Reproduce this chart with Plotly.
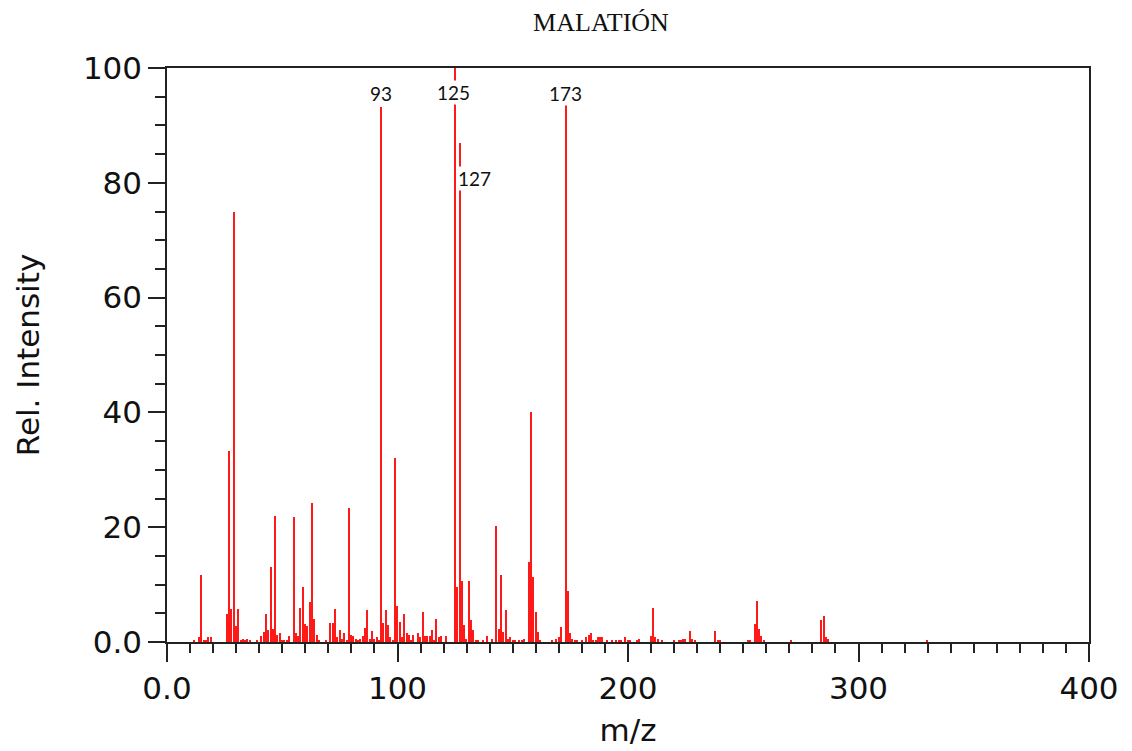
import plotly.graph_objects as go

# m/z values and relative intensities
mz = [12, 14, 15, 16, 17, 18, 19, 26, 27, 28, 29, 30, 31, 32, 33, 34, 35, 36, 39,
      41, 42, 43, 44, 45, 46, 47, 48, 49, 50, 51, 52, 53, 55, 56, 57, 58, 59, 60,
      61, 62, 63, 64, 65, 66, 69, 71, 72, 73, 74, 75, 76, 77, 78, 79, 80, 81, 82,
      83, 84, 85, 86, 87, 88, 89, 90, 91, 92, 93, 94, 95, 96, 97, 98, 99, 100,
      101, 102, 103, 104, 105, 106, 107, 109, 110, 111, 112, 113, 114, 115, 116,
      117, 118, 119, 121, 125, 126, 127, 128, 129, 130, 131, 132, 133, 134, 135,
      137, 139, 141, 143, 144, 145, 146, 147, 148, 149, 150, 151, 153, 154, 155,
      157, 158, 159, 160, 161, 162, 167, 169, 170, 171, 173, 174, 175, 176, 177,
      178, 180, 182, 183, 184, 185, 186, 187, 188, 189, 191, 193, 195, 196, 197,
      199, 200, 201, 204, 205, 210, 211, 212, 213, 215, 220, 222, 223, 224, 225,
      227, 228, 229, 238, 239, 240, 252, 253, 255, 256, 257, 258, 259, 271, 284,
      285, 286, 287, 330]
intensity = [0.4, 0.8, 11.7, 0.4, 0.4, 0.8, 0.8, 4.8, 33.2, 5.7, 74.9, 2.8, 5.7, 0.4, 0.5, 0.3, 0.5, 0.3, 0.4,
             1.0, 1.8, 4.8, 2.1, 13.0, 2.3, 21.9, 1.2, 1.5, 0.3, 0.3, 0.3, 1.0, 21.7, 1.5, 1.0, 6.0, 9.6, 3.1,
             2.8, 7.0, 24.3, 4.0, 1.2, 0.3, 0.3, 3.3, 3.3, 5.7, 0.8, 2.1, 0.5, 1.5, 0.3, 23.4, 1.3, 1.0, 0.5,
             0.3, 0.5, 1.0, 2.5, 5.5, 0.5, 2.0, 0.5, 0.8, 0.3, 93.2, 3.3, 5.5, 2.9, 0.8, 0.3, 32.0, 6.3,
             3.4, 0.8, 4.8, 1.5, 1.3, 0.3, 1.3, 1.5, 0.8, 5.2, 1.0, 1.0, 1.0, 2.1, 0.3,
             4.0, 0.8, 1.0, 1.0, 100.0, 9.6, 87.0, 10.6, 2.9, 0.5, 10.6, 3.8, 2.1, 0.3, 0.3,
             0.3, 1.0, 0.5, 20.2, 2.3, 11.7, 1.8, 5.5, 0.5, 0.8, 0.3, 0.3, 0.3, 0.3, 0.5,
             13.9, 40.0, 11.4, 5.2, 1.8, 0.3, 0.3, 0.5, 0.8, 2.7, 93.7, 8.9, 1.5, 0.5, 0.3,
             0.3, 0.3, 0.8, 1.3, 1.5, 0.3, 0.3, 0.8, 0.8, 0.8, 0.3, 0.3, 0.3, 0.3, 0.3,
             0.8, 0.3, 0.3, 0.3, 0.5, 1.1, 6.0, 0.8, 0.5, 0.3, 0.3, 0.3, 0.3, 0.5, 0.5,
             2.0, 0.5, 0.3, 1.9, 0.3, 0.3, 0.3, 0.3, 3.1, 7.2, 2.3, 1.0, 0.3, 0.3, 3.8,
             4.5, 0.8, 0.5, 0.3]

# peak labels
label_mz = [93, 125, 127, 173]
label_text = ["93", "125", "127", "173"]
label_y = [95.5, 95.8, 80.8, 95.6]
label_xshift = [0, -2, 15, 0]

x_tickvals = [0, 100, 200, 300, 400]
x_ticktext = ["0.0", "100", "200", "300", "400"]
y_tickvals = [0, 20, 40, 60, 80, 100]
y_ticktext = ["0.0", "20", "40", "60", "80", "100"]

fig = go.Figure()
fig.add_trace(go.Bar(x=mz, y=intensity, width=0.62,
                     marker=dict(color="#ff1a1a", line=dict(width=0)),
                     hoverinfo="x+y"))

for m, t, yv, dx in zip(label_mz, label_text, label_y, label_xshift):
    fig.add_annotation(x=m, y=yv, text=t, showarrow=False, xshift=dx,
                       font=dict(family="Lato", size=19, color="#111"),
                       bgcolor="white", borderpad=0,
                       xanchor="center", yanchor="middle")

axis_font = dict(family="DejaVu Sans", size=31, color="#111")

fig.update_layout(
    width=1132, height=751,
    margin=dict(l=167, r=43, t=68, b=109, autoexpand=False),
    paper_bgcolor="white", plot_bgcolor="white",
    showlegend=False,
    bargap=0,
    title=dict(text="MALATIÓN", x=601 / 1132, xanchor="center",
               y=1 - 22 / 751, yanchor="middle",
               font=dict(family="Liberation Serif", size=26, color="#111")),
    xaxis=dict(range=[0, 400], tickvals=x_tickvals, ticktext=x_ticktext,
               ticks="outside", ticklen=18, tickwidth=1.5, tickcolor="#222",
               minor=dict(dtick=10, tick0=0, ticks="outside", ticklen=9,
                          tickwidth=1.5, tickcolor="#222", showgrid=False),
               showline=True, linecolor="#222", linewidth=1.5, mirror=True,
               showgrid=False, zeroline=False, tickfont=axis_font,
               title=dict(text="m/z", font=axis_font, standoff=14),
               automargin=False),
    yaxis=dict(range=[0, 100], tickvals=y_tickvals, ticktext=y_ticktext,
               ticks="outside", ticklen=17, tickwidth=1.5, tickcolor="#222",
               minor=dict(dtick=5, tick0=0, ticks="outside", ticklen=10,
                          tickwidth=1.5, tickcolor="#222", showgrid=False),
               showline=True, linecolor="#222", linewidth=1.5, mirror=True,
               showgrid=False, zeroline=False, tickfont=axis_font,
               title=dict(text="Rel. Intensity", font=axis_font, standoff=34),
               automargin=False),
)

fig.write_html("out.html")
